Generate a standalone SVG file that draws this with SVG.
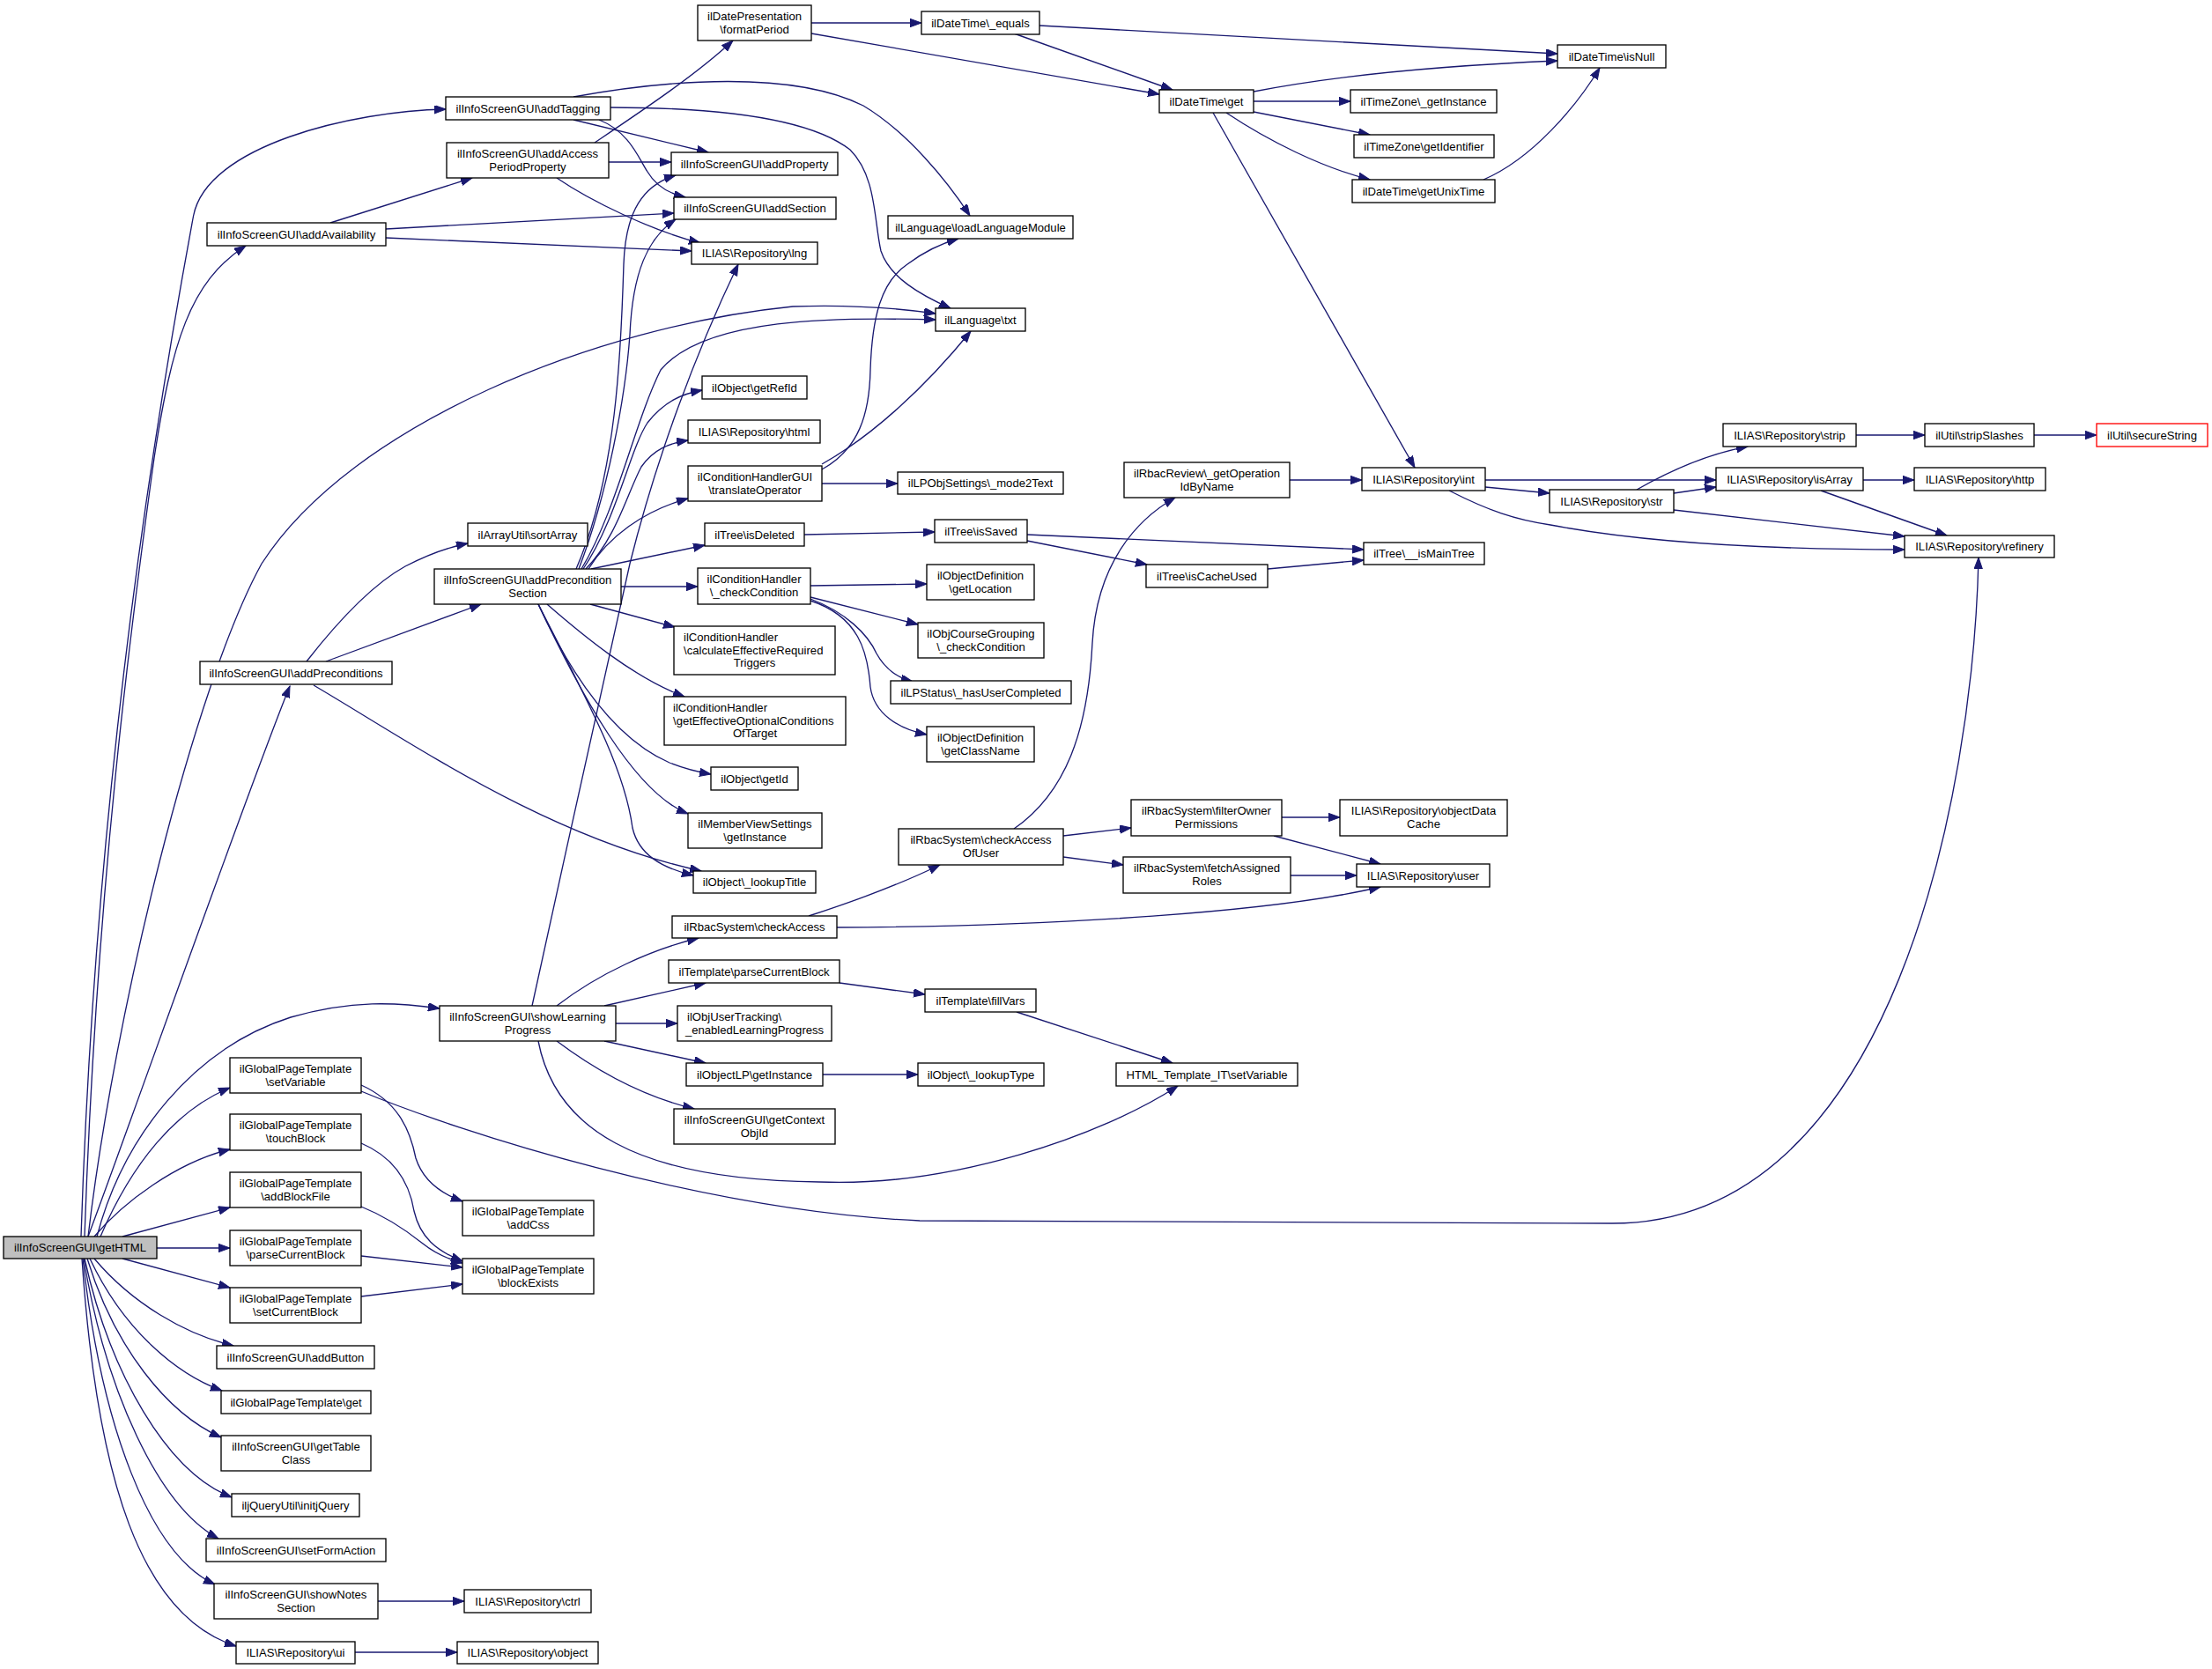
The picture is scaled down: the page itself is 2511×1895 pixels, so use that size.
<svg xmlns="http://www.w3.org/2000/svg" width="2511" height="1895" viewBox="0 0 2511 1895">
<defs>
<marker id="a" markerUnits="userSpaceOnUse" markerWidth="14" markerHeight="10" refX="13" refY="4.7" orient="auto"><path d="M0,0 L13,4.7 L0,9.4 z" fill="#191970" stroke="#191970" stroke-width="1"/></marker>
</defs>
<style>
.n{fill:#fff;stroke:#000;stroke-width:1.33}
.root{fill:#bfbfbf}
.red{stroke:#ff0000}
.e{fill:none;stroke:#191970;stroke-width:1.33;marker-end:url(#a)}
text{font-family:"Liberation Sans",Arial,Helvetica,sans-serif;font-size:13.1px;fill:#000;text-anchor:middle}
text.l{text-anchor:start}
</style>
<rect width="2511" height="1895" fill="#fff"/>
<g id="connectors">
<path class="e" d="M92,1404 C105,1000 150,620 219.6,245 C235,165 400,126 506,124"/>
<path class="e" d="M96,1404 C110,1000 150,700 175,520 C195,390 215,320 279,279"/>
<path class="e" d="M100,1404 C130,1150 220,780 297,640 C400,480 680,370 900,348 C960,346 1020,350 1062,356"/>
<path class="e" d="M100,1404 C150,1270 280,900 329,779"/>
<path class="e" d="M110,1404 C140,1290 220,1190 330,1155 C400,1135 450,1138 499,1145"/>
<path class="e" d="M114,1404 C150,1320 200,1260 261,1235"/>
<path class="e" d="M107,1404 C140,1365 200,1320 261,1305"/>
<path class="e" d="M139,1404 L261,1371"/>
<path class="e" d="M178,1417 L261,1417"/>
<path class="e" d="M139,1429 L261,1462"/>
<path class="e" d="M107,1429 C150,1480 210,1515 265,1528"/>
<path class="e" d="M102,1429 C140,1510 200,1560 252,1579"/>
<path class="e" d="M99,1429 C130,1530 190,1605 251,1632"/>
<path class="e" d="M96,1429 C125,1560 190,1672 263,1700"/>
<path class="e" d="M95,1429 C120,1580 180,1710 248,1747"/>
<path class="e" d="M94,1429 C115,1620 170,1765 244,1799"/>
<path class="e" d="M93,1429 C110,1680 160,1835 268,1869"/>
<path class="e" d="M429,1818 L527,1818"/>
<path class="e" d="M403,1876 L519,1876"/>
<path class="e" d="M410,1232 C450,1250 465,1280 472,1315 C480,1340 500,1355 525,1364"/>
<path class="e" d="M410,1239 C520,1285 800,1375 1044,1386 L1830,1389 C2150,1389 2240,900 2246,633"/>
<path class="e" d="M410,1298 C450,1315 465,1345 470,1375 C477,1405 495,1420 525,1432"/>
<path class="e" d="M410,1370 C440,1382 465,1400 480,1412 C495,1424 510,1430 525,1434"/>
<path class="e" d="M410,1426 L525,1439"/>
<path class="e" d="M410,1472 L525,1458"/>
<path class="e" d="M375,253 L536,202"/>
<path class="e" d="M438,260 L765,242"/>
<path class="e" d="M438,270 L785,285"/>
<path class="e" d="M675,162 C730,125 790,85 832,46"/>
<path class="e" d="M691,184 L762,184"/>
<path class="e" d="M632,202 C670,228 740,262 795,276"/>
<path class="e" d="M651,136 L804,173"/>
<path class="e" d="M680,136 C715,150 725,180 735,195 C745,212 760,220 778,224"/>
<path class="e" d="M651,110 C760,90 900,80 980,120 C1030,150 1075,205 1101,245"/>
<path class="e" d="M693,122 C820,122 920,135 965,170 C995,200 992,250 1000,285 C1010,315 1045,335 1079,350"/>
<path class="e" d="M921,26 L1046,26"/>
<path class="e" d="M921,38 L1316,107"/>
<path class="e" d="M1180,29 L1768,61"/>
<path class="e" d="M1151,38 L1331,102"/>
<path class="e" d="M1423,104 C1520,85 1650,74 1768,69"/>
<path class="e" d="M1423,115 L1533,115"/>
<path class="e" d="M1423,127 L1555,153"/>
<path class="e" d="M1392,128 C1440,160 1500,190 1555,204"/>
<path class="e" d="M1377,128 L1606,531"/>
<path class="e" d="M1684,204 C1740,180 1790,120 1816,77"/>
<path class="e" d="M1686,545 L1948,545"/>
<path class="e" d="M1686,553 L1759,560"/>
<path class="e" d="M1645,557 C1690,580 1720,590 1760,596 C1860,615 2000,624 2162,624"/>
<path class="e" d="M1858,556 C1900,532 1940,515 1984,507"/>
<path class="e" d="M1900,560 L1948,553"/>
<path class="e" d="M1900,579 L2162,609"/>
<path class="e" d="M2107,494 L2185,494"/>
<path class="e" d="M2309,494 L2380,494"/>
<path class="e" d="M2115,545 L2173,545"/>
<path class="e" d="M2067,557 L2210,608"/>
<path class="e" d="M1464,545 L1546,545"/>
<path class="e" d="M913,607 L1061,604"/>
<path class="e" d="M1166,607 L1548,624"/>
<path class="e" d="M1166,614 L1302,641"/>
<path class="e" d="M1439,646 L1548,636"/>
<path class="e" d="M920,665 L1052,663"/>
<path class="e" d="M920,678 L1042,709"/>
<path class="e" d="M920,680 C960,695 985,720 995,742 C1005,760 1020,770 1036,774"/>
<path class="e" d="M920,682 C975,700 985,740 988,780 C992,810 1020,828 1052,834"/>
<path class="e" d="M933,533 C975,510 987,470 988,420 C990,360 1000,320 1030,300 C1050,285 1070,276 1088,271"/>
<path class="e" d="M933,527 C990,495 1050,440 1102,376"/>
<path class="e" d="M933,549 L1019,549"/>
<path class="e" d="M1151,941 C1210,900 1235,830 1240,730 C1245,640 1290,590 1334,565"/>
<path class="e" d="M1207,949 L1284,940"/>
<path class="e" d="M1207,973 L1275,982"/>
<path class="e" d="M1455,928 L1521,928"/>
<path class="e" d="M1446,949 L1567,981"/>
<path class="e" d="M1465,994 L1540,994"/>
<path class="e" d="M918,1040 C980,1020 1030,1000 1067,982"/>
<path class="e" d="M950,1053 C1200,1052 1450,1035 1567,1007"/>
<path class="e" d="M953,1116 L1050,1129"/>
<path class="e" d="M1154,1149 L1331,1207"/>
<path class="e" d="M934,1220 L1042,1220"/>
<path class="e" d="M632,1142 C680,1105 740,1078 793,1065"/>
<path class="e" d="M686,1142 L801,1116"/>
<path class="e" d="M699,1162 L769,1162"/>
<path class="e" d="M686,1182 L801,1207"/>
<path class="e" d="M632,1182 C680,1218 730,1245 788,1259"/>
<path class="e" d="M611,1182 C630,1280 720,1340 930,1342 C1080,1348 1250,1290 1337,1233"/>
<path class="e" d="M604,1142 C640,975 680,800 715,640 C745,520 790,400 838,300"/>
<path class="e" d="M348,751 C380,710 420,665 460,643 C485,630 505,622 531,617"/>
<path class="e" d="M370,751 L546,686"/>
<path class="e" d="M356,778 C470,845 620,950 796,989"/>
<path class="e" d="M705,666 L792,666"/>
<path class="e" d="M670,686 L766,712"/>
<path class="e" d="M621,686 C660,720 720,770 777,791"/>
<path class="e" d="M611,686 C650,770 700,840 760,866 C780,874 795,877 807,879"/>
<path class="e" d="M611,686 C660,790 720,900 781,924"/>
<path class="e" d="M611,686 C680,820 710,880 718,940 C725,970 750,985 787,994"/>
<path class="e" d="M671,646 L800,619"/>
<path class="e" d="M668,646 C690,610 730,580 781,566"/>
<path class="e" d="M665,646 C700,610 712,560 728,530 C742,510 760,503 781,500"/>
<path class="e" d="M662,646 C700,590 715,510 735,480 C755,455 775,447 797,443"/>
<path class="e" d="M660,646 C700,580 720,480 750,420 C800,360 950,360 1062,363"/>
<path class="e" d="M657,646 C690,560 710,450 715,380 C718,310 735,270 767,249"/>
<path class="e" d="M654,646 C700,540 705,400 708,300 C710,240 730,210 767,199"/>
</g>
<g id="n_getHTML"><rect class="n root" x="4" y="1404" width="174" height="25"/><text x="91" y="1421.1">ilInfoScreenGUI\getHTML</text></g>
<g id="n_addTagging"><rect class="n" x="506" y="110" width="187" height="26"/><text x="599.5" y="127.6">ilInfoScreenGUI\addTagging</text></g>
<g id="n_addAccessPeriodProperty"><rect class="n" x="507" y="162" width="184" height="40"/><text x="599" y="178.8">ilInfoScreenGUI\addAccess</text><text x="599" y="193.5">PeriodProperty</text></g>
<g id="n_addAvailability"><rect class="n" x="235" y="253" width="203" height="26"/><text x="336.5" y="270.6">ilInfoScreenGUI\addAvailability</text></g>
<g id="n_sortArray"><rect class="n" x="531" y="594" width="136" height="26"/><text x="599" y="611.6">ilArrayUtil\sortArray</text></g>
<g id="n_addPreconditions"><rect class="n" x="227" y="751" width="218" height="26"/><text x="336" y="768.6">ilInfoScreenGUI\addPreconditions</text></g>
<g id="n_addPreconditionSection"><rect class="n" x="493" y="646" width="212" height="40"/><text x="599" y="662.8">ilInfoScreenGUI\addPrecondition</text><text x="599" y="677.5">Section</text></g>
<g id="n_showLearningProgress"><rect class="n" x="499" y="1142" width="200" height="40"/><text x="599" y="1158.8">ilInfoScreenGUI\showLearning</text><text x="599" y="1173.5">Progress</text></g>
<g id="n_gptSetVariable"><rect class="n" x="261" y="1201" width="149" height="40"/><text x="335.5" y="1217.8">ilGlobalPageTemplate</text><text x="335.5" y="1232.5">\setVariable</text></g>
<g id="n_touchBlock"><rect class="n" x="261" y="1265" width="149" height="41"/><text x="335.5" y="1282.3">ilGlobalPageTemplate</text><text x="335.5" y="1297">\touchBlock</text></g>
<g id="n_addBlockFile"><rect class="n" x="261" y="1331" width="149" height="40"/><text x="335.5" y="1347.8">ilGlobalPageTemplate</text><text x="335.5" y="1362.5">\addBlockFile</text></g>
<g id="n_gptParseCurrentBlock"><rect class="n" x="261" y="1397" width="149" height="40"/><text x="335.5" y="1413.8">ilGlobalPageTemplate</text><text x="335.5" y="1428.5">\parseCurrentBlock</text></g>
<g id="n_setCurrentBlock"><rect class="n" x="261" y="1462" width="149" height="40"/><text x="335.5" y="1478.8">ilGlobalPageTemplate</text><text x="335.5" y="1493.5">\setCurrentBlock</text></g>
<g id="n_addButton"><rect class="n" x="246" y="1528" width="179" height="26"/><text x="335.5" y="1545.6">ilInfoScreenGUI\addButton</text></g>
<g id="n_gptGet"><rect class="n" x="251" y="1579" width="170" height="26"/><text x="336" y="1596.6">ilGlobalPageTemplate\get</text></g>
<g id="n_getTableClass"><rect class="n" x="251" y="1630" width="170" height="40"/><text x="336" y="1646.8">ilInfoScreenGUI\getTable</text><text x="336" y="1661.5">Class</text></g>
<g id="n_initjQuery"><rect class="n" x="263" y="1696" width="145" height="26"/><text x="335.5" y="1713.6">iljQueryUtil\initjQuery</text></g>
<g id="n_setFormAction"><rect class="n" x="234" y="1747" width="204" height="26"/><text x="336" y="1764.6">ilInfoScreenGUI\setFormAction</text></g>
<g id="n_showNotesSection"><rect class="n" x="243" y="1798" width="186" height="40"/><text x="336" y="1814.8">ilInfoScreenGUI\showNotes</text><text x="336" y="1829.5">Section</text></g>
<g id="n_ui"><rect class="n" x="268" y="1864" width="135" height="25"/><text x="335.5" y="1881.1">ILIAS\Repository\ui</text></g>
<g id="n_ctrl"><rect class="n" x="527" y="1805" width="144" height="26"/><text x="599" y="1822.6">ILIAS\Repository\ctrl</text></g>
<g id="n_object"><rect class="n" x="519" y="1864" width="160" height="25"/><text x="599" y="1881.1">ILIAS\Repository\object</text></g>
<g id="n_addCss"><rect class="n" x="525" y="1363" width="149" height="40"/><text x="599.5" y="1379.8">ilGlobalPageTemplate</text><text x="599.5" y="1394.5">\addCss</text></g>
<g id="n_blockExists"><rect class="n" x="525" y="1429" width="149" height="40"/><text x="599.5" y="1445.8">ilGlobalPageTemplate</text><text x="599.5" y="1460.5">\blockExists</text></g>
<g id="n_formatPeriod"><rect class="n" x="792" y="6" width="129" height="40"/><text x="856.5" y="22.8">ilDatePresentation</text><text x="856.5" y="37.5">\formatPeriod</text></g>
<g id="n_equals"><rect class="n" x="1046" y="13" width="134" height="26"/><text x="1113" y="30.6">ilDateTime\_equals</text></g>
<g id="n_dtGet"><rect class="n" x="1316" y="102" width="107" height="26"/><text x="1369.5" y="119.6">ilDateTime\get</text></g>
<g id="n_addProperty"><rect class="n" x="762" y="173" width="189" height="26"/><text x="856.5" y="190.6">ilInfoScreenGUI\addProperty</text></g>
<g id="n_addSection"><rect class="n" x="765" y="224" width="184" height="25"/><text x="857" y="241.1">ilInfoScreenGUI\addSection</text></g>
<g id="n_lng"><rect class="n" x="785" y="275" width="143" height="25"/><text x="856.5" y="292.1">ILIAS\Repository\lng</text></g>
<g id="n_loadLanguageModule"><rect class="n" x="1008" y="245" width="210" height="26"/><text x="1113" y="262.6">ilLanguage\loadLanguageModule</text></g>
<g id="n_txt"><rect class="n" x="1062" y="350" width="102" height="26"/><text x="1113" y="367.6">ilLanguage\txt</text></g>
<g id="n_getRefId"><rect class="n" x="797" y="427" width="119" height="26"/><text x="856.5" y="444.6">ilObject\getRefId</text></g>
<g id="n_html"><rect class="n" x="781" y="477" width="150" height="26"/><text x="856" y="494.6">ILIAS\Repository\html</text></g>
<g id="n_translateOperator"><rect class="n" x="781" y="529" width="152" height="40"/><text x="857" y="545.8">ilConditionHandlerGUI</text><text x="857" y="560.5">\translateOperator</text></g>
<g id="n_mode2Text"><rect class="n" x="1019" y="536" width="188" height="25"/><text x="1113" y="553.1">ilLPObjSettings\_mode2Text</text></g>
<g id="n_getOperationIdByName"><rect class="n" x="1276" y="525" width="188" height="40"/><text x="1370" y="541.8">ilRbacReview\_getOperation</text><text x="1370" y="556.5">IdByName</text></g>
<g id="n_isDeleted"><rect class="n" x="800" y="594" width="113" height="26"/><text x="856.5" y="611.6">ilTree\isDeleted</text></g>
<g id="n_isSaved"><rect class="n" x="1061" y="590" width="105" height="26"/><text x="1113.5" y="607.6">ilTree\isSaved</text></g>
<g id="n_isNull"><rect class="n" x="1768" y="51" width="123" height="26"/><text x="1829.5" y="68.6">ilDateTime\isNull</text></g>
<g id="n_tzGetInstance"><rect class="n" x="1533" y="102" width="166" height="26"/><text x="1616" y="119.6">ilTimeZone\_getInstance</text></g>
<g id="n_getIdentifier"><rect class="n" x="1537" y="153" width="159" height="26"/><text x="1616.5" y="170.6">ilTimeZone\getIdentifier</text></g>
<g id="n_getUnixTime"><rect class="n" x="1535" y="204" width="162" height="26"/><text x="1616" y="221.6">ilDateTime\getUnixTime</text></g>
<g id="n_int"><rect class="n" x="1546" y="531" width="140" height="26"/><text x="1616" y="548.6">ILIAS\Repository\int</text></g>
<g id="n_str"><rect class="n" x="1759" y="556" width="141" height="26"/><text x="1829.5" y="573.6">ILIAS\Repository\str</text></g>
<g id="n_strip"><rect class="n" x="1956" y="481" width="151" height="26"/><text x="2031.5" y="498.6">ILIAS\Repository\strip</text></g>
<g id="n_stripSlashes"><rect class="n" x="2185" y="481" width="124" height="26"/><text x="2247" y="498.6">ilUtil\stripSlashes</text></g>
<g id="n_secureString"><rect class="n red" x="2380" y="481" width="126" height="26"/><text x="2443" y="498.6">ilUtil\secureString</text></g>
<g id="n_isArray"><rect class="n" x="1948" y="531" width="167" height="26"/><text x="2031.5" y="548.6">ILIAS\Repository\isArray</text></g>
<g id="n_http"><rect class="n" x="2173" y="531" width="149" height="26"/><text x="2247.5" y="548.6">ILIAS\Repository\http</text></g>
<g id="n_refinery"><rect class="n" x="2162" y="608" width="170" height="25"/><text x="2247" y="625.1">ILIAS\Repository\refinery</text></g>
<g id="n_isMainTree"><rect class="n" x="1548" y="616" width="137" height="25"/><text x="1616.5" y="633.1">ilTree\__isMainTree</text></g>
<g id="n_checkCondition"><rect class="n" x="792" y="645" width="128" height="41"/><text x="856" y="661.8">ilConditionHandler</text><text x="856" y="676.5">\_checkCondition</text></g>
<g id="n_getLocation"><rect class="n" x="1052" y="641" width="122" height="40"/><text x="1113" y="657.8">ilObjectDefinition</text><text x="1113" y="672.5">\getLocation</text></g>
<g id="n_isCacheUsed"><rect class="n" x="1301" y="641" width="138" height="26"/><text x="1370" y="658.6">ilTree\isCacheUsed</text></g>
<g id="n_calcEff"><rect class="n" x="765" y="711" width="183" height="55"/><text class="l" x="776" y="727.8">ilConditionHandler</text><text class="l" x="776" y="742.5">\calculateEffectiveRequired</text><text x="856.5" y="757.2">Triggers</text></g>
<g id="n_courseGrouping"><rect class="n" x="1042" y="707" width="143" height="40"/><text x="1113.5" y="723.8">ilObjCourseGrouping</text><text x="1113.5" y="738.5">\_checkCondition</text></g>
<g id="n_hasUserCompleted"><rect class="n" x="1011" y="773" width="205" height="26"/><text x="1113.5" y="790.6">ilLPStatus\_hasUserCompleted</text></g>
<g id="n_getEffOpt"><rect class="n" x="754" y="791" width="206" height="55"/><text class="l" x="764" y="807.8">ilConditionHandler</text><text class="l" x="764" y="822.5">\getEffectiveOptionalConditions</text><text x="857" y="837.2">OfTarget</text></g>
<g id="n_getClassName"><rect class="n" x="1052" y="825" width="122" height="40"/><text x="1113" y="841.8">ilObjectDefinition</text><text x="1113" y="856.5">\getClassName</text></g>
<g id="n_getId"><rect class="n" x="807" y="871" width="99" height="26"/><text x="856.5" y="888.6">ilObject\getId</text></g>
<g id="n_mvsGetInstance"><rect class="n" x="781" y="923" width="152" height="40"/><text x="857" y="939.8">ilMemberViewSettings</text><text x="857" y="954.5">\getInstance</text></g>
<g id="n_lookupTitle"><rect class="n" x="787" y="989" width="139" height="25"/><text x="856.5" y="1006.1">ilObject\_lookupTitle</text></g>
<g id="n_checkAccessOfUser"><rect class="n" x="1020" y="941" width="187" height="41"/><text x="1113.5" y="957.8">ilRbacSystem\checkAccess</text><text x="1113.5" y="972.5">OfUser</text></g>
<g id="n_filterOwner"><rect class="n" x="1284" y="908" width="171" height="41"/><text x="1369.5" y="924.8">ilRbacSystem\filterOwner</text><text x="1369.5" y="939.5">Permissions</text></g>
<g id="n_fetchAssigned"><rect class="n" x="1275" y="973" width="190" height="41"/><text x="1370" y="989.8">ilRbacSystem\fetchAssigned</text><text x="1370" y="1004.5">Roles</text></g>
<g id="n_objectDataCache"><rect class="n" x="1521" y="908" width="190" height="41"/><text x="1616" y="924.8">ILIAS\Repository\objectData</text><text x="1616" y="939.5">Cache</text></g>
<g id="n_user"><rect class="n" x="1540" y="981" width="151" height="26"/><text x="1615.5" y="998.6">ILIAS\Repository\user</text></g>
<g id="n_checkAccess"><rect class="n" x="763" y="1040" width="187" height="25"/><text x="856.5" y="1057.1">ilRbacSystem\checkAccess</text></g>
<g id="n_tplParseCurrentBlock"><rect class="n" x="759" y="1090" width="194" height="26"/><text x="856" y="1107.6">ilTemplate\parseCurrentBlock</text></g>
<g id="n_fillVars"><rect class="n" x="1050" y="1123" width="126" height="26"/><text x="1113" y="1140.6">ilTemplate\fillVars</text></g>
<g id="n_enabledLP"><rect class="n" x="769" y="1142" width="175" height="40"/><text class="l" x="780" y="1158.8">ilObjUserTracking\</text><text x="856.5" y="1173.5">_enabledLearningProgress</text></g>
<g id="n_objLPGetInstance"><rect class="n" x="779" y="1207" width="155" height="26"/><text x="856.5" y="1224.6">ilObjectLP\getInstance</text></g>
<g id="n_lookupType"><rect class="n" x="1042" y="1207" width="143" height="26"/><text x="1113.5" y="1224.6">ilObject\_lookupType</text></g>
<g id="n_htmlTplSetVariable"><rect class="n" x="1267" y="1207" width="206" height="26"/><text x="1370" y="1224.6">HTML_Template_IT\setVariable</text></g>
<g id="n_getContextObjId"><rect class="n" x="765" y="1259" width="183" height="40"/><text x="856.5" y="1275.8">ilInfoScreenGUI\getContext</text><text x="856.5" y="1290.5">ObjId</text></g>
</svg>
